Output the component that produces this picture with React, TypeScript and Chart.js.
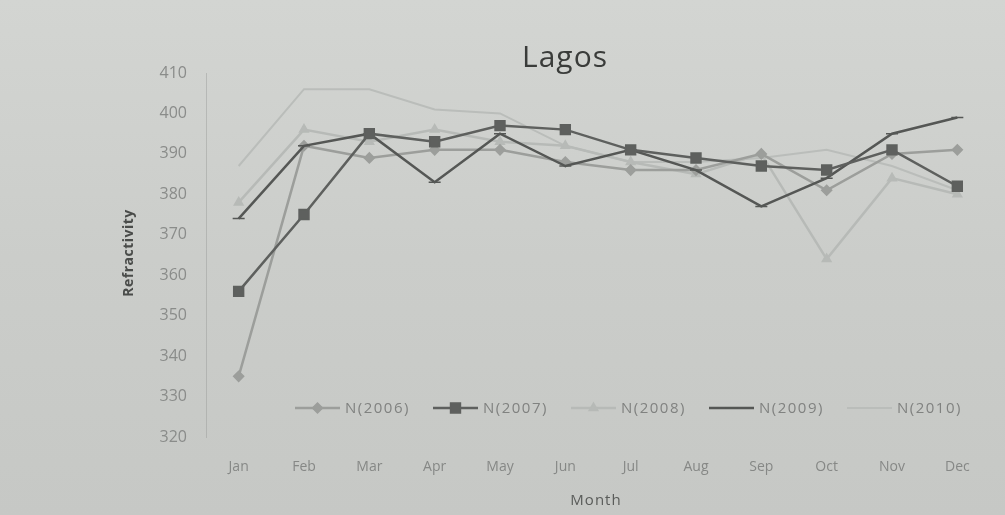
import { useEffect, useRef } from 'react';
import { Chart, registerables } from 'chart.js';
import { drawPoint } from 'chart.js/helpers';

Chart.register(...registerables);

const months = ['Jan', 'Feb', 'Mar', 'Apr', 'May', 'Jun', 'Jul', 'Aug', 'Sep', 'Oct', 'Nov', 'Dec'];
const seriesNames = ['N(2006)', 'N(2007)', 'N(2008)', 'N(2009)', 'N(2010)'];
const n2006 = [335, 392, 389, 391, 391, 388, 386, 386, 390, 381, 390, 391];
const n2007 = [356, 375, 395, 393, 397, 396, 391, 389, 387, 386, 391, 382];
const n2008 = [378, 396, 393, 396, 393, 392, 388, 385, 390, 364, 384, 380];
const n2009 = [374, 392, 395, 383, 395, 387, 391, 386, 377, 384, 395, 399];
const n2010 = [387, 406, 406, 401, 400, 392, 388, 388, 389, 391, 387, 381];
const yMin = 320;
const yMax = 410;
const yStep = 10;
const chartTitle = 'Lagos';
const xTitle = 'Month';
const yTitle = 'Refractivity';

const FONT = '"Open Sans", "Liberation Sans", sans-serif';

export default function App() {
  const ref = useRef<HTMLCanvasElement>(null);

  useEffect(() => {
    document.body.style.margin = '0';
    const styles = [
      { color: '#9c9e9b', point: 'rectRot', radius: 5, width: 2.5 },
      { color: '#5e605e', point: 'rect', radius: 7, width: 2.5 },
      { color: '#b7bab7', point: 'triangle', radius: 5, width: 2.5 },
      { color: '#555755', point: 'line', radius: 6, width: 2.5 },
      { color: '#babdba', point: false, radius: 0, width: 2 },
    ];
    const values = [n2006, n2007, n2008, n2009, n2010];
    const orders = [2, 0, 3, 1, 4];

    const textPlugin = {
      id: 'texts',
      afterDraw(chart: any) {
        const ctx = chart.ctx as CanvasRenderingContext2D;
        const area = chart.chartArea;
        ctx.save();
        ctx.fillStyle = '#3a3c3a';
        ctx.font = `30px ${FONT}`;
        (ctx as any).letterSpacing = '1px';
        ctx.textAlign = 'center';
        ctx.textBaseline = 'middle';
        ctx.fillText(chartTitle, 565, 58);
        ctx.fillStyle = '#5a5c5a';
        ctx.font = `15px ${FONT}`;
        (ctx as any).letterSpacing = '1px';
        ctx.fillText(xTitle, 596, 501);
        ctx.save();
        ctx.translate(129, 253);
        ctx.rotate(-Math.PI / 2);
        ctx.fillStyle = '#4a4c4a';
        ctx.font = `bold 14px ${FONT}`;
        (ctx as any).letterSpacing = '0.5px';
        ctx.fillText(yTitle, 0, 0);
        ctx.restore();
        const ly = area.bottom - 29;
        ctx.font = `15px ${FONT}`;
        (ctx as any).letterSpacing = '1.5px';
        ctx.textAlign = 'left';
        chart.data.datasets.forEach((ds: any, i: number) => {
          const x0 = 295 + i * 138;
          ctx.strokeStyle = ds.borderColor;
          ctx.lineWidth = ds.borderWidth;
          ctx.beginPath();
          ctx.moveTo(x0, ly);
          ctx.lineTo(x0 + 45, ly);
          ctx.stroke();
          if (ds.pointStyle) {
            ctx.fillStyle = ds.pointBackgroundColor;
            ctx.strokeStyle = ds.pointBorderColor;
            ctx.lineWidth = 1.5;
            drawPoint(ctx, { pointStyle: ds.pointStyle, radius: ds.pointRadius, borderWidth: 1.5, rotation: 0 } as any, x0 + 22.5, ly);
          }
          ctx.fillStyle = '#808280';
          ctx.fillText(ds.label, x0 + 50, ly + 1);
        });
        ctx.restore();
      },
    };

    const chart = new Chart(ref.current!, {
      type: 'line',
      data: {
        labels: months,
        datasets: values.map((v, i) => ({
          label: seriesNames[i],
          data: v,
          borderColor: styles[i].color,
          backgroundColor: styles[i].color,
          borderWidth: styles[i].width,
          pointStyle: styles[i].point as any,
          pointRadius: styles[i].radius,
          pointBackgroundColor: styles[i].color,
          pointBorderColor: styles[i].color,
          pointBorderWidth: 1.5,
          tension: 0,
          order: orders[i],
        })),
      },
      options: {
        responsive: false,
        animation: false,
        devicePixelRatio: 1,
        layout: { padding: { top: 73, right: 15, left: 0, bottom: 0 } },
        plugins: {
          legend: { display: false },
          title: { display: false },
          tooltip: { enabled: false },
        },
        scales: {
          x: {
            offset: true,
            grid: { display: false, drawTicks: false },
            border: { display: false },
            ticks: { padding: 22, color: '#868886', font: { family: FONT, size: 14 } },
            afterFit: (s: any) => { s.height = 78; },
          },
          y: {
            min: yMin,
            max: yMax,
            grid: { display: false, drawTicks: false },
            border: { display: true, color: 'rgba(150,152,150,0.45)' },
            ticks: { stepSize: yStep, padding: 19, color: '#8a8c8a', font: { family: FONT, size: 16 } },
            afterFit: (s: any) => { s.width = 206; },
          },
        },
      },
      plugins: [textPlugin],
    });
    return () => chart.destroy();
  }, []);

  return (
    <div style={{ width: 1005, height: 515, background: 'linear-gradient(180deg, #d3d5d2 0%, #cbcdca 50%, #c6c8c5 100%)' }}>
      <canvas ref={ref} width={1005} height={515} style={{ display: 'block' }} />
    </div>
  );
}
